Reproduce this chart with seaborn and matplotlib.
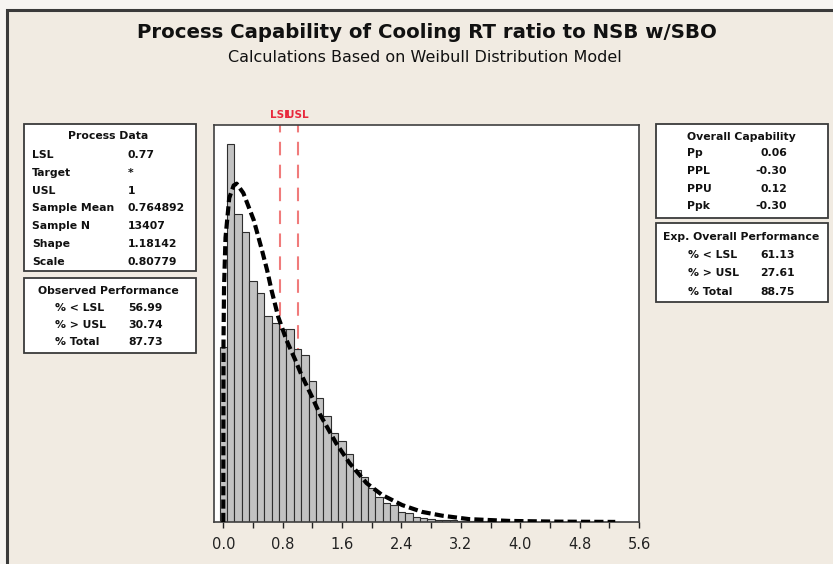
import numpy as np
import pandas as pd
import matplotlib
matplotlib.use('Agg')
import matplotlib.pyplot as plt
from matplotlib.patches import Rectangle
from matplotlib.ticker import MultipleLocator
import matplotlib.transforms as mtransforms
import seaborn as sns

# histogram bins (midpoints, width 0.1) and counts
bin_mid = [0.0, 0.1, 0.2, 0.3, 0.4, 0.5, 0.6, 0.7, 0.8, 0.9,
           1.0, 1.1, 1.2, 1.3, 1.4, 1.5, 1.6, 1.7, 1.8, 1.9,
           2.0, 2.1, 2.2, 2.3, 2.4, 2.5, 2.6, 2.7, 2.8, 2.9,
           3.0, 3.1, 3.2, 3.3, 3.4, 3.5, 3.6, 3.7, 3.8, 3.9,
           4.0, 4.1, 4.2, 4.3, 4.4, 4.5, 4.6, 4.7, 4.8, 4.9,
           5.0, 5.1, 5.2, 5.3]
bin_count = [648, 1400, 1140, 1073, 890, 849, 763, 737, 715, 715,
             641, 618, 521, 458, 391, 328, 298, 253, 194, 168,
             127, 93, 71, 63, 37, 34, 19, 15, 11, 9,
             7, 6, 4, 3, 3, 2, 2, 1, 1, 1,
             1, 1, 1, 1, 0, 1, 0, 1, 0, 0,
             1, 0, 0, 1]

# fitted Weibull curve (density)
fit_x = [0.0, 0.003, 0.01, 0.03, 0.08, 0.14, 0.18, 0.27, 0.41, 0.52,
         0.59, 0.65, 0.74, 0.85, 0.97, 1.05, 1.19, 1.30, 1.52, 1.70,
         1.93, 2.14, 2.41, 2.68, 2.95, 3.31, 3.85, 4.50, 5.28]
fit_y = [0.0, 0.50, 0.65, 0.79, 0.90, 0.935, 0.94, 0.914, 0.839, 0.756,
         0.70, 0.644, 0.570, 0.506, 0.45, 0.41, 0.35, 0.30, 0.219, 0.164,
         0.108, 0.075, 0.047, 0.028, 0.0175, 0.008, 0.003, 0.001, 0.0002]

lsl = 0.77
usl = 1.0
x_ticks = [0.0, 0.8, 1.6, 2.4, 3.2, 4.0, 4.8, 5.6]
x_tick_labels = ['0.0', '0.8', '1.6', '2.4', '3.2', '4.0', '4.8', '5.6']

process_rows = [('LSL', '0.77'), ('Target', '*'), ('USL', '1'),
                ('Sample Mean', '0.764892'), ('Sample N', '13407'),
                ('Shape', '1.18142'), ('Scale', '0.80779')]
observed_rows = [('% < LSL', '56.99'), ('% > USL', '30.74'), ('% Total', '87.73')]
capability_rows = [('Pp', '0.06'), ('PPL', '-0.30'), ('PPU', '0.12'), ('Ppk', '-0.30')]
expected_rows = [('% < LSL', '61.13'), ('% > USL', '27.61'), ('% Total', '88.75')]

W, H = 833, 564
bg = '#f1ebe2'


def fx(x):
	return x / W


def fy(y):
	return 1 - y / H


fig = plt.figure(figsize=(W / 100, H / 100), dpi=100)
fig.patch.set_facecolor('#f6f4f1')
fig.patches.append(Rectangle((fx(6.5), -0.05), 1.1, fy(9.5) + 0.05, transform=fig.transFigure,
                             facecolor=bg, edgecolor='#3a3a3a', lw=2.2, zorder=-10))

ax = fig.add_axes([fx(214), 1 - 522 / H, (639 - 214) / W, (522 - 125) / H])
ax.set_facecolor('white')

df_hist = pd.DataFrame({'mid': bin_mid, 'count': bin_count})
sns.histplot(data=df_hist, x='mid', weights='count', binwidth=0.1, binrange=(-0.05, 5.35),
             stat='density', color='#c2c2c2', edgecolor='#2e2e2e', linewidth=0.8, alpha=1, ax=ax)

df_fit = pd.DataFrame({'x': fit_x, 'y': fit_y})
sns.lineplot(data=df_fit, x='x', y='y', color='black', lw=3.0, linestyle=(0, (2.2, 1.0)), ax=ax, zorder=3)

for v in [lsl, usl]:
	ax.axvline(v, color='#f07b7b', lw=1.5, linestyle=(0, (6.5, 4.5)), zorder=0.5)

trans = mtransforms.blended_transform_factory(ax.transData, ax.transAxes)
ax.text(lsl, 1.012, 'LSL', transform=trans, ha='center', va='bottom', color='#e8283c',
        fontsize=7.5, fontweight='bold')
ax.text(usl, 1.012, 'USL', transform=trans, ha='center', va='bottom', color='#e8283c',
        fontsize=7.5, fontweight='bold')

ax.set_xlim(-0.125, 5.6)
ax.set_ylim(0, 1.103)
ax.set_xticks(x_ticks)
ax.set_xticklabels(x_tick_labels)
ax.xaxis.set_minor_locator(MultipleLocator(0.4))
ax.set_yticks([])
ax.set_xlabel('')
ax.set_ylabel('')
ax.tick_params(axis='x', which='both', direction='out', length=4, width=1, labelsize=10.5, pad=7, colors='#222222')
for s in ax.spines.values():
	s.set_color('#404040')
	s.set_linewidth(1.2)

fig.text(fx(427), fy(33), 'Process Capability of Cooling RT ratio to NSB w/SBO',
         ha='center', va='center', fontsize=14.2, fontweight='bold', color='#111111')
fig.text(fx(425), fy(58), 'Calculations Based on Weibull Distribution Model',
         ha='center', va='center', fontsize=11.5, color='#111111')


def box(x0, y0, x1, y1):
	fig.patches.append(Rectangle((fx(x0), fy(y1)), (x1 - x0) / W, (y1 - y0) / H,
	                             transform=fig.transFigure, facecolor='white',
	                             edgecolor='#3a3a3a', lw=1.3, zorder=1))


def txt(x, y, s, ha='left', bold=True, size=7.8):
	fig.text(fx(x), fy(y), s, ha=ha, va='center', fontsize=size,
	         fontweight='bold' if bold else 'normal', color='#111111', zorder=2)


# left boxes
box(24, 124, 196, 271)
txt(108, 136, 'Process Data', ha='center')
for k, (lab, val) in enumerate(process_rows):
	y = 155 + k * 17.8
	txt(32, y, lab)
	txt(128, y, val)

box(24, 278, 196, 353)
txt(108, 291, 'Observed Performance', ha='center')
for k, (lab, val) in enumerate(observed_rows):
	y = 308 + k * 16.8
	txt(55, y, lab)
	txt(128, y, val)

# right boxes
box(656, 124, 828, 218)
txt(741, 137, 'Overall Capability', ha='center')
for k, (lab, val) in enumerate(capability_rows):
	y = 153 + k * 17.8
	txt(687, y, lab)
	txt(787, y, val, ha='right')

box(656, 223, 828, 302)
txt(741, 237, 'Exp. Overall Performance', ha='center')
for k, (lab, val) in enumerate(expected_rows):
	y = 255 + k * 18.3
	txt(688, y, lab)
	txt(760, y, val)

plt.savefig('out.png', dpi=100, facecolor=fig.get_facecolor())
